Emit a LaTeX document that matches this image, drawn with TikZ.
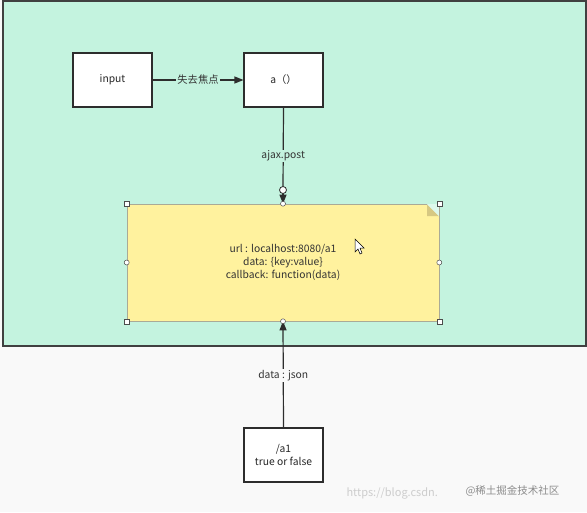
\documentclass[tikz,border=0pt]{standalone}
\usepackage{fontspec}
\setmainfont{Noto Sans CJK SC}
\usetikzlibrary{arrows.meta}
\definecolor{bggreen}{RGB}{196,243,223}
\definecolor{outbg}{RGB}{249,249,249}
\definecolor{noteyel}{RGB}{255,242,158}
\definecolor{noteedge}{RGB}{170,170,150}
\definecolor{foldc}{RGB}{214,200,130}
\definecolor{boxedge}{RGB}{45,45,45}
\definecolor{wm}{RGB}{205,205,205}
\tikzset{
  x=1pt,y=-1pt,
  txt/.style={font=\fontsize{10.3}{13}\selectfont},
  boxnode/.style={txt,draw=boxedge,line width=1.1pt,fill=white,minimum width=79pt,minimum height=54pt,inner sep=0pt,align=center,text=black!85},
  conn/.style={draw=boxedge,line width=1.2pt},
  tip/.style={-{Triangle[length=9pt,width=7pt]}},
  lbl/.style={txt,fill=bggreen,inner sep=1pt,text=black!80},
  handlesq/.style={draw=black!70,fill=white,line width=0.5pt,minimum size=5pt,inner sep=0pt},
  handlec/.style={draw=black!70,fill=white,line width=0.5pt,circle,minimum size=5pt,inner sep=0pt},
}
\begin{document}
\begin{tikzpicture}
\useasboundingbox (0,0) rectangle (587,512);
\fill[outbg] (0,0) rectangle (587,512);
\draw[fill=bggreen,draw=black!75,line width=1.3pt] (3,1) rectangle (586,346);
% boxes
\node[boxnode] (input) at (112.5,80) {input};
\node[boxnode] (a) at (283.5,80) {a（）};
% note
\node[txt,fill=noteyel,draw=noteedge,line width=0.6pt,minimum width=312pt,minimum height=117pt,inner sep=0pt,align=center,text=black!80] (note) at (283,262.5) {url : localhost:8080/a1\\data: \{key:value\}\\callback: function(data)};
\fill[foldc] (427,204) -- (439,216) -- (427,216) -- cycle;
\fill[bggreen!60!white] (427,204) -- (439,204) -- (439,216) -- cycle;
\draw[noteedge,line width=0.6pt] (note.north east) -- (note.south east);
% bottom box
\node[boxnode] (a1) at (283.5,455) {/a1\\true or false};
% connectors
\draw[conn,tip] (input.east) -- node[lbl] {失去焦点} (a.west);
\coordinate (endc) at (283,190);
\draw[conn] (a.south) -- node[lbl,pos=0.59] {ajax.post} (endc);
\draw[conn,tip] (endc) -- (note.north);
\node[circle,draw=boxedge,fill=white,line width=0.8pt,minimum size=7pt,inner sep=0pt] (endcirc) at (endc) {};
\draw[conn,tip] (a1.north) -- node[txt,fill=outbg,inner sep=1pt,text=black!80,pos=0.49] {data : json} (note.south);
% handles
\foreach \p in {north west,north east,south west,south east}{\node[handlesq] at (note.\p) {};}
\foreach \p in {north,south,west,east}{\node[handlec] at (note.\p) {};}
% cursor
\draw[fill=white,draw=black,line width=0.5pt] (355,239) -- (355,252) -- (358,249) -- (360,254) -- (362,253) -- (360,248) -- (364,248) -- cycle;
% watermark
\node[text=wm,font=\fontsize{11}{13}\selectfont,anchor=west] (wm1) at (343,493) {https://blog.csdn.};
\node[text=black!45,font=\fontsize{10.5}{12}\selectfont,anchor=west] (wm2) at (462,491) {@稀土掘金技术社区};
\end{tikzpicture}
\end{document}
